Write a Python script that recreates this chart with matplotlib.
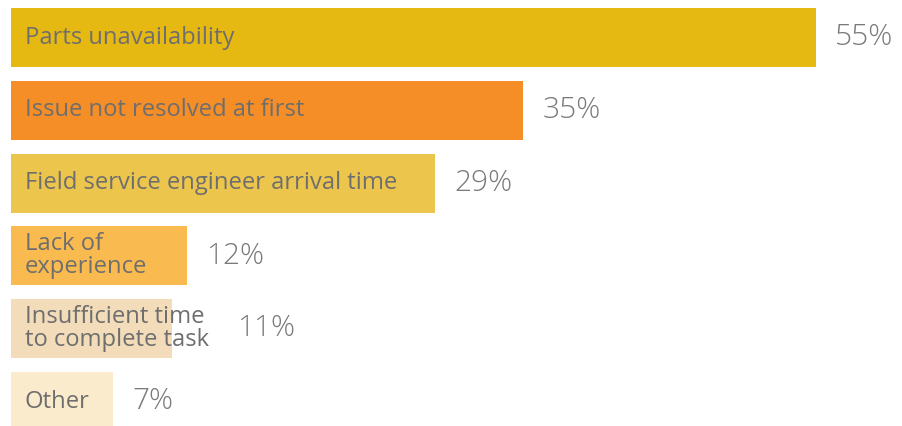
import matplotlib
matplotlib.use("Agg")
import matplotlib.pyplot as plt

categories = [
    "Parts unavailability",
    "Issue not resolved at first",
    "Field service engineer arrival time",
    "Lack of\nexperience",
    "Insufficient time\nto complete task",
    "Other",
]
values = [55, 35, 29, 12, 11, 7]
value_labels = ["55%", "35%", "29%", "12%", "11%", "7%"]
colors = ["#E6B912", "#F58E26", "#ECC54D", "#F9BB50", "#F2DCB9", "#FBEBCD"]

W, H, DPI = 902, 426, 100
fig = plt.figure(figsize=(W / DPI, H / DPI), dpi=DPI)
ax = fig.add_axes([0, 0, 1, 1])

px_per_unit = 14.636
row_px = 72.8
first_center_px = 37.5
left_px = 11

ax.set_xlim(-left_px / px_per_unit, (W - left_px) / px_per_unit)
ax.set_ylim((H - first_center_px) / row_px, -first_center_px / row_px)
ax.axis("off")

ypos = list(range(len(categories)))
ax.barh(ypos, values, height=59 / row_px, color=colors, edgecolor="none")

label_font = dict(family=["Open Sans", "DejaVu Sans"], size=17.1, color="#6E6E6E")
value_font = dict(family=["Open Sans", "DejaVu Sans"], size=21.5, color="#7A7A7A",
                  weight="light")

texts = []
for y, cat in zip(ypos, categories):
    t = ax.text(14 / px_per_unit, y, cat, va="center", ha="left",
                linespacing=0.95, **label_font)
    texts.append(t)

# Value labels sit right of the bar, or right of the category text if it overflows
fig.canvas.draw()
renderer = fig.canvas.get_renderer()
inv = ax.transData.inverted()
for y, v, lab, t in zip(ypos, values, value_labels, texts):
    bb = t.get_window_extent(renderer)
    text_end = inv.transform((bb.x1, 0))[0]
    if text_end > v:
        x = text_end + 28 / px_per_unit
    else:
        x = v + 19 / px_per_unit
    ax.text(x, y, lab, va="center", ha="left", **value_font)

fig.savefig("out.png", dpi=DPI)
